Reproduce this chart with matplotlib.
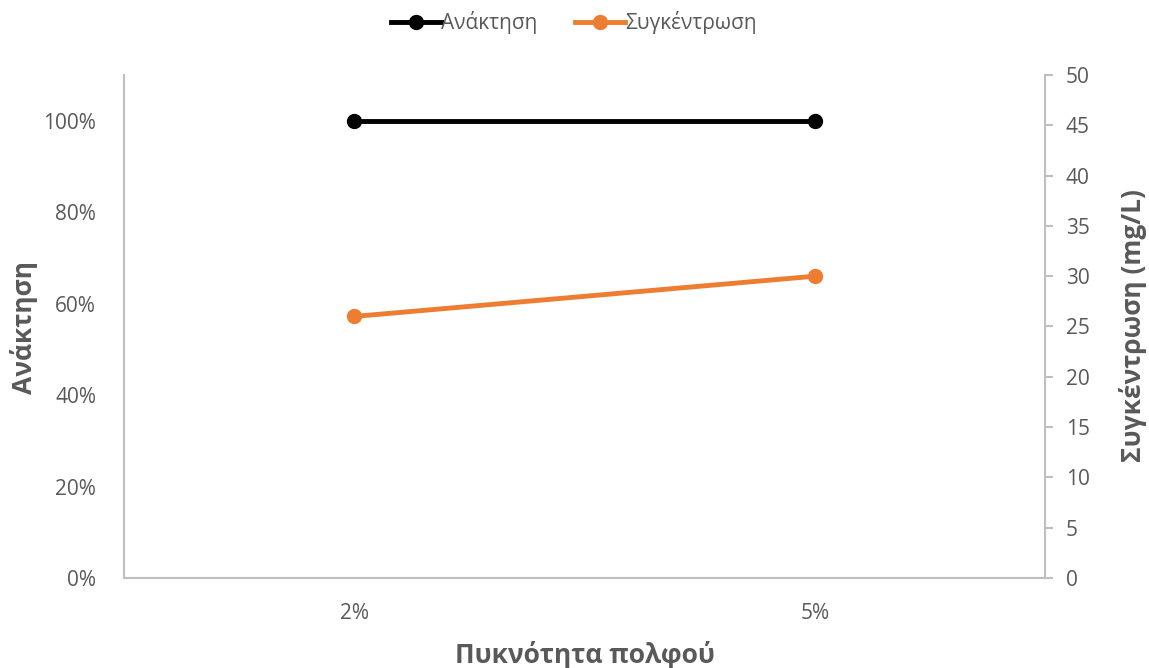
import matplotlib
matplotlib.use("Agg")
import matplotlib.pyplot as plt
from matplotlib.ticker import FuncFormatter, MultipleLocator

plt.rcParams['font.family'] = ['Open Sans', 'DejaVu Sans']

categories = ["2%", "5%"]
recovery = [1.00, 1.00]          # Ανάκτηση (fraction)
concentration = [26, 30]         # Συγκέντρωση (mg/L)

spine_c = "#BFBFBF"
text_c = "#595959"
W, H = 1149, 668

fig = plt.figure(figsize=(W / 100, H / 100), dpi=100)
ax = fig.add_axes([124 / W, 90 / H, 921 / W, 503 / H])
ax2 = ax.twinx()

x = list(range(len(categories)))
l1, = ax.plot(x, recovery, color="black", lw=3.5, marker="o", ms=10, label="Ανάκτηση")
l2, = ax2.plot(x, concentration, color="#ED7D31", lw=3.5, marker="o", ms=10, label="Συγκέντρωση")

ax.set_xlim(-0.5, 1.5)
ax.set_ylim(0, 1.1)
ax.yaxis.set_major_locator(MultipleLocator(0.2))
ax.yaxis.set_major_formatter(FuncFormatter(lambda v, p: f"{v*100:.0f}%"))
ax2.set_ylim(0, 50)
ax2.yaxis.set_major_locator(MultipleLocator(5))

ax.set_xticks(x)
ax.set_xticklabels(categories)

for a in (ax, ax2):
    for s in a.spines.values():
        s.set_visible(False)

ax.spines['left'].set_visible(True)
ax.spines['left'].set_color(spine_c)
ax.spines['left'].set_linewidth(1.5)
ax.spines['bottom'].set_visible(True)
ax.spines['bottom'].set_color(spine_c)
ax.spines['bottom'].set_linewidth(1.5)
ax2.spines['right'].set_visible(True)
ax2.spines['right'].set_color(spine_c)
ax2.spines['right'].set_linewidth(1.5)

ax.tick_params(axis='y', length=0, pad=20, labelsize=15, labelcolor=text_c)
ax.tick_params(axis='x', length=0, pad=18, labelsize=15, labelcolor=text_c)
ax2.tick_params(axis='y', length=6, width=1.5, color=spine_c, direction='out',
                pad=9, labelsize=15, labelcolor=text_c)

# axis titles
fig.text(585 / W, 1 - 655 / H, "Πυκνότητα πολφού", fontsize=19, fontweight='bold',
         color=text_c, ha='center', va='center')
fig.text(24 / W, 1 - 327 / H, "Ανάκτηση", fontsize=19, fontweight='bold',
         color=text_c, ha='center', va='center', rotation=90)
fig.text(1133 / W, 1 - 326 / H, "Συγκέντρωση (mg/L)", fontsize=19, fontweight='bold',
         color=text_c, ha='center', va='center', rotation=90)

fig.legend(handles=[l1, l2], loc='center', bbox_to_anchor=(574 / W, 1 - 23 / H), ncol=2,
           frameon=False, fontsize=15, labelcolor=text_c, handlelength=2.4,
           handletextpad=0.0, columnspacing=1.8)

fig.savefig("out.png", dpi=100)
